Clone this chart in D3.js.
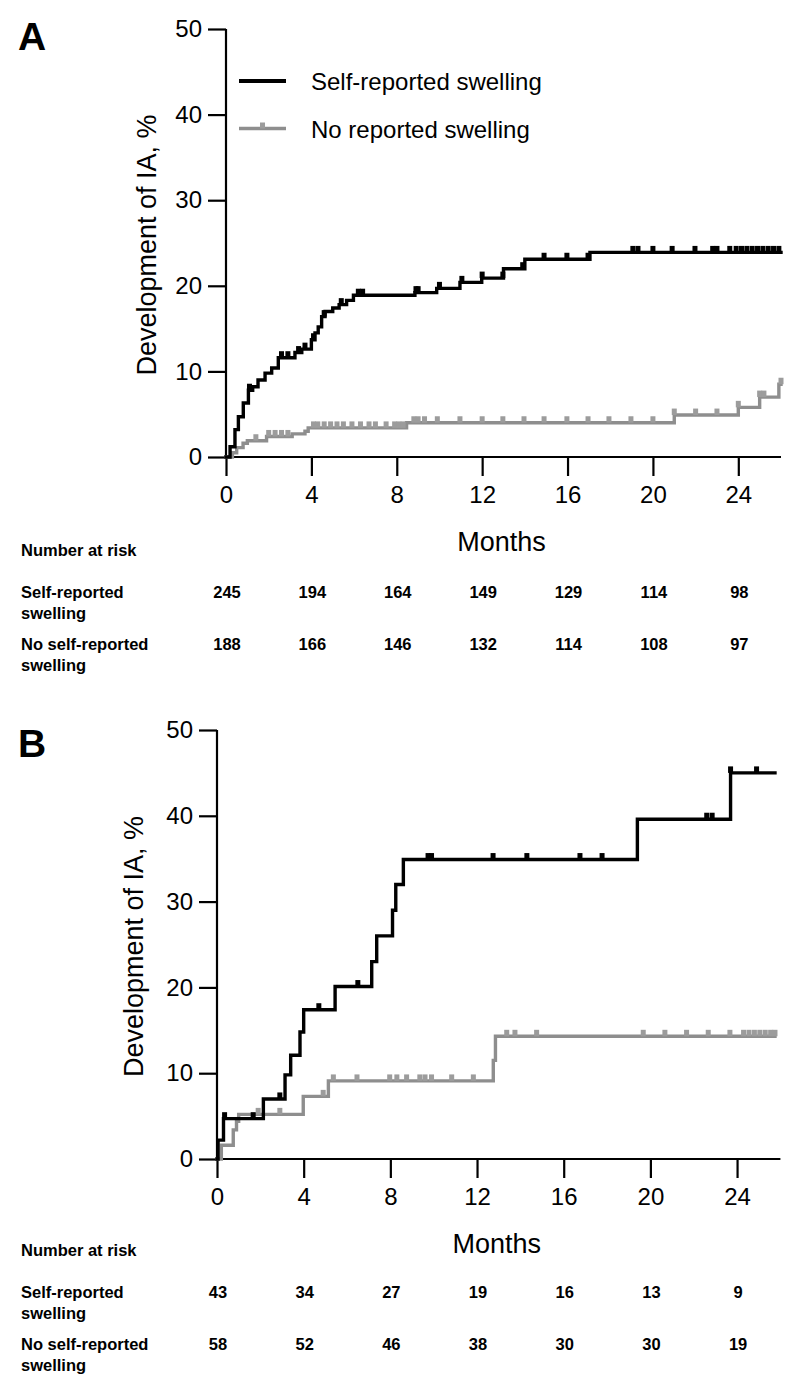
<!DOCTYPE html>
<html>
<head>
<meta charset="utf-8">
<script src="https://cdn.jsdelivr.net/npm/d3@7"></script>
<style>
  html, body { margin: 0; padding: 0; background: #ffffff; }
  svg { display: block; font-family: "Liberation Sans", Arial, Helvetica, sans-serif; }
</style>
</head>
<body>
<svg id="chart" width="800" height="1399"></svg>
<script>
// ---------------- DATA ----------------
const yTicks = [0, 10, 20, 30, 40, 50];
const xTicks = [0, 4, 8, 12, 16, 20, 24];
const riskMonths = [0, 4, 8, 12, 16, 20, 24];
const seriesNames = ["Self-reported swelling", "No reported swelling"];
const rowLabels = [["Self-reported", "swelling"], ["No self-reported", "swelling"]];

// Panel A
const aSwellTimes = [0, 0.19, 0.42, 0.58, 0.81, 1.05, 1.25, 1.5, 1.83, 2.14, 2.45, 3.23, 3.55, 4.0, 4.17, 4.32, 4.48, 4.64, 5.0, 5.3, 5.65, 5.97, 8.85, 9.87, 10.96, 11.98, 13.0, 14.0, 17.05];
const aSwellValues = [0, 1.2, 3.2, 4.7, 6.3, 7.8, 8.2, 9.0, 9.8, 10.4, 11.6, 12.2, 12.6, 13.7, 14.5, 15.2, 16.4, 17.0, 17.4, 17.8, 18.3, 18.9, 19.2, 19.7, 20.4, 20.9, 22.0, 23.1, 23.9];
const aSwellEnd = 26.0;
const aSwellCensor = [1.1, 2.6, 2.9, 3.4, 3.7, 4.1, 4.6, 5.4, 6.2, 6.4, 8.9, 9.0, 10.0, 11.05, 12.0, 12.97, 13.9, 14.9, 15.97, 16.96, 19.06, 19.3, 20.0, 20.9, 21.97, 22.8, 23.0, 23.6, 23.9, 24.15, 24.4, 24.65, 24.9, 25.15, 25.4, 25.65, 25.9];

const aNoTimes = [0, 0.3, 0.5, 0.8, 1.0, 1.9, 3.1, 3.7, 3.85, 8.46, 21.0, 24.0, 25.0, 25.9];
const aNoValues = [0, 0.5, 1.1, 1.6, 1.9, 2.4, 2.7, 3.0, 3.4, 4.0, 4.9, 5.8, 7.0, 8.5];
const aNoEnd = 26.0;
const aNoCensor = [1.4, 2.0, 2.3, 2.6, 2.9, 4.1, 4.3, 4.6, 4.9, 5.2, 5.5, 5.9, 6.3, 6.7, 7.0, 7.5, 7.9, 8.1, 8.3, 8.8, 9.0, 9.3, 9.9, 10.96, 12.0, 12.97, 13.96, 14.9, 15.97, 16.96, 17.94, 18.97, 20.0, 21.0, 22.0, 23.0, 24.0, 25.0, 25.2, 26.0];

const aRiskSwell = [245, 194, 164, 149, 129, 114, 98];
const aRiskNo = [188, 166, 146, 132, 114, 108, 97];

// Panel B
const bSwellTimes = [0, 0.05, 0.3, 2.14, 3.14, 3.4, 3.83, 4.0, 5.45, 7.14, 7.37, 8.1, 8.25, 8.6, 19.4, 23.7];
const bSwellValues = [0, 2.2, 4.7, 7.0, 9.8, 12.1, 14.8, 17.4, 20.1, 23.0, 26.0, 29.0, 32.0, 34.9, 39.6, 45.0];
const bSwellEnd = 25.75;
const bSwellCensor = [0.35, 1.67, 2.9, 4.7, 6.5, 9.74, 9.9, 12.74, 14.3, 16.75, 17.77, 22.6, 22.85, 23.7, 24.9];

const bNoTimes = [0, 0.2, 0.75, 0.9, 1.0, 3.98, 5.14, 12.75, 12.85];
const bNoValues = [0, 1.6, 3.4, 4.4, 5.2, 7.3, 9.1, 11.5, 14.3];
const bNoEnd = 25.75;
const bNoCensor = [1.9, 2.9, 4.9, 5.37, 6.46, 7.97, 8.3, 8.75, 9.36, 9.6, 9.9, 10.83, 11.83, 13.37, 13.75, 14.75, 19.67, 20.67, 21.67, 22.67, 23.67, 24.3, 24.55, 24.8, 25.05, 25.3, 25.55, 25.75];

const bRiskSwell = [43, 34, 27, 19, 16, 13, 9];
const bRiskNo = [58, 52, 46, 38, 30, 30, 19];

// ---------------- DRAW ----------------
const svg = d3.select("#chart");
svg.append("rect").attr("width", 800).attr("height", 1399).attr("fill", "#ffffff");

const BLACK = "#000000";
const GREY = "#8e8e8e";
const GREYMARK = "#9c9c9c";

function stepValueAt(times, values, t) {
  const i = d3.bisectRight(times, t) - 1;
  return values[Math.max(0, i)];
}

function drawPanel(p) {
  const g = svg.append("g");
  const x = d3.scaleLinear().domain([0, 26]).range([p.x0, p.x1]);
  const y = d3.scaleLinear().domain([0, 50]).range([p.y0, p.y1]);

  // panel letter
  g.append("text").attr("x", 18).attr("y", p.letterY)
    .attr("font-size", 39).attr("font-weight", "bold").text(p.letter);

  // y axis
  const yAxis = g.append("g").attr("transform", `translate(${p.x0},0)`)
    .call(d3.axisLeft(y).tickValues(yTicks).tickSize(18).tickPadding(6).tickFormat(d3.format("d")));
  yAxis.select(".domain").attr("stroke-width", 2.2).attr("d", `M0,${p.y0}V${p.y1}`);
  yAxis.selectAll(".tick line").attr("stroke-width", 2.2);
  yAxis.selectAll(".tick text").attr("font-size", 24).attr("fill", "#000")
    .attr("font-family", "Liberation Sans, Arial, sans-serif");

  // x axis
  const xAxis = g.append("g").attr("transform", `translate(0,${p.y0})`)
    .call(d3.axisBottom(x).tickValues(xTicks).tickSize(19).tickPadding(10).tickFormat(d3.format("d")));
  xAxis.select(".domain").attr("stroke-width", 2.2).attr("d", `M${p.x0},0H${p.x1}`);
  xAxis.selectAll(".tick line").attr("stroke-width", 2.2);
  xAxis.selectAll(".tick text").attr("font-size", 24).attr("fill", "#000")
    .attr("font-family", "Liberation Sans, Arial, sans-serif");

  // y title
  g.append("text")
    .attr("transform", `translate(${p.yTitleX},${(p.y0 + p.y1) / 2 + 2}) rotate(-90)`)
    .attr("text-anchor", "middle").attr("font-size", 27)
    .text("Development of IA, %");

  // x title
  g.append("text").attr("x", (p.x0 + p.x1) / 2 - 2).attr("y", p.monthsY)
    .attr("text-anchor", "middle").attr("font-size", 27).text("Months");

  // curves (grey first, black on top)
  const line = d3.line().x(d => x(d[0])).y(d => y(d[1])).curve(d3.curveStepAfter);
  p.series.slice().reverse().forEach(s => {
    const pts = s.times.map((t, i) => [t, s.values[i]]);
    pts.push([s.end, s.values[s.values.length - 1]]);
    g.append("path").datum(pts).attr("fill", "none")
      .attr("stroke", s.color).attr("stroke-width", 3.4)
      .attr("stroke-linejoin", "miter").attr("stroke-linecap", "square")
      .attr("d", line);
    g.selectAll(null).data(s.censor).enter().append("rect")
      .attr("x", d => x(d) - 2.5)
      .attr("y", d => y(stepValueAt(s.times, s.values, d)) - 6.5)
      .attr("width", 5).attr("height", 6.5)
      .attr("fill", s.markColor);
  });

  // risk table
  const t = p.tableY;
  g.append("text").attr("x", 21).attr("y", t)
    .attr("font-size", 16.5).attr("font-weight", "bold").text("Number at risk");
  p.risk.forEach((row, r) => {
    const by = t + 42 + r * 52;
    rowLabels[r].forEach((ln, k) => {
      g.append("text").attr("x", 21).attr("y", by + k * 20.5)
        .attr("font-size", 16.5).attr("font-weight", "bold").text(ln);
    });
    g.selectAll(null).data(riskMonths).enter().append("text")
      .attr("x", (m, i) => x(m) + 1)
      .attr("y", by)
      .attr("text-anchor", "middle")
      .attr("font-size", 16.5).attr("font-weight", "bold")
      .text((m, i) => row[i]);
  });

  // legend
  if (p.legend) {
    const lx0 = p.x0 + 13, lx1 = p.x0 + 60;
    p.series.forEach((s, i) => {
      const ly = 81 + i * 47.5;
      g.append("line").attr("x1", lx0).attr("x2", lx1).attr("y1", ly).attr("y2", ly)
        .attr("stroke", s.color).attr("stroke-width", i === 0 ? 4 : 3.4);
      if (i === 1) {
        g.append("rect").attr("x", (lx0 + lx1) / 2 - 2.5).attr("y", ly - 6)
          .attr("width", 5).attr("height", 6).attr("fill", s.markColor);
      }
      g.append("text").attr("x", 311).attr("y", ly + 9)
        .attr("font-size", 24).text(seriesNames[i]);
    });
  }
}

drawPanel({
  letter: "A", letterY: 50,
  x0: 226, x1: 781, y0: 457, y1: 29,
  yTitleX: 156, monthsY: 551, tableY: 556, legend: true,
  risk: [aRiskSwell, aRiskNo],
  series: [
    { times: aSwellTimes, values: aSwellValues, end: aSwellEnd, censor: aSwellCensor, color: BLACK, markColor: BLACK },
    { times: aNoTimes, values: aNoValues, end: aNoEnd, censor: aNoCensor, color: GREY, markColor: GREYMARK }
  ]
});

drawPanel({
  letter: "B", letterY: 757,
  x0: 217, x1: 780.4, y0: 1159, y1: 730,
  yTitleX: 143, monthsY: 1253, tableY: 1256, legend: false,
  risk: [bRiskSwell, bRiskNo],
  series: [
    { times: bSwellTimes, values: bSwellValues, end: bSwellEnd, censor: bSwellCensor, color: BLACK, markColor: BLACK },
    { times: bNoTimes, values: bNoValues, end: bNoEnd, censor: bNoCensor, color: GREY, markColor: GREYMARK }
  ]
});
</script>
</body>
</html>
